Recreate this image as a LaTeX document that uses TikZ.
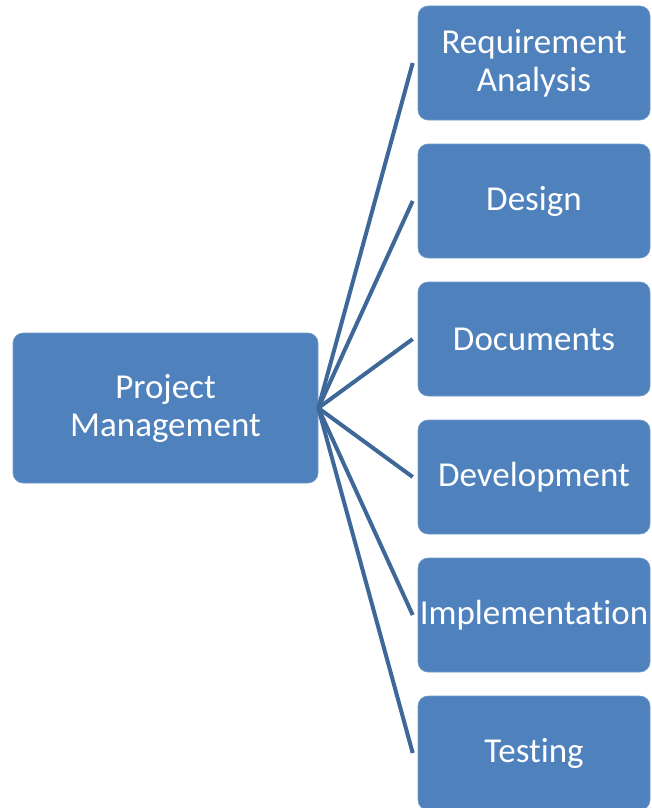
\documentclass[tikz,border=0pt]{standalone}
\usepackage{fontspec}
\setmainfont{Carlito}[Ligatures={NoCommon,NoDiscretionary,NoContextual}]
\definecolor{boxblue}{HTML}{4F81BD}
\definecolor{lineblue}{HTML}{3F6899}
\begin{document}
\begin{tikzpicture}[x=1pt,y=-1pt,
  box/.style={rectangle, rounded corners=10pt, fill=boxblue, draw=boxblue!80!white, line width=0.6pt,
    text=white, inner sep=0pt, align=center,
    font=\fontsize{35}{38}\selectfont},
  side/.style={box, minimum width=232pt, minimum height=114pt},
  conn/.style={draw=lineblue, line width=4pt}]
\useasboundingbox (0,0) rectangle (651,808);
\node[box, minimum width=305pt, minimum height=150pt] (pm) at (165.5,408) {Project\\Management};
\node[side] (r1) at (534,63) {Requirement\\Analysis};
\node[side] (r2) at (534,201) {Design};
\node[side] (r3) at (534,339) {Documents};
\node[side] (r4) at (534,477) {Development};
\node[side] (r5) at (534,615) {Implementation};
\node[side] (r6) at (534,753) {Testing};
\foreach \n in {r1,r2,r3,r4,r5,r6}
  \draw[conn] (pm.east) -- ([xshift=-5pt]\n.west);
\end{tikzpicture}
\end{document}
